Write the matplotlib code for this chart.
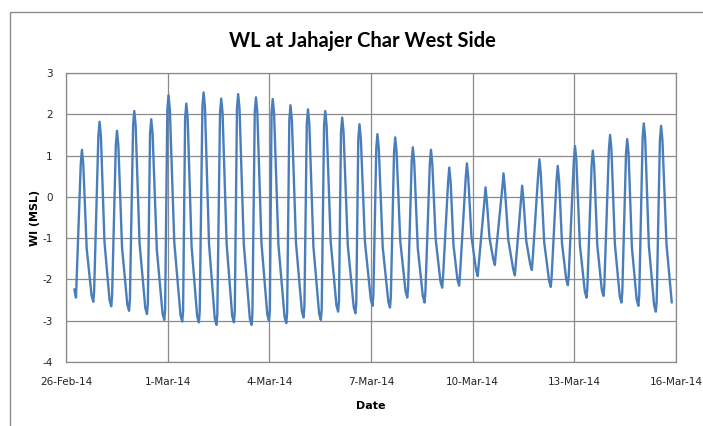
import matplotlib
matplotlib.use("Agg")
import matplotlib.pyplot as plt
from matplotlib.patches import Rectangle
import numpy as np
import datetime as dt

# ---- data (days after 26-Feb-2014 00:00, water level m MSL) ----
start_days = [0.245, 0.295]
start_levels = [-2.24, -2.44]

peak_days = [0.47, 0.99, 1.505, 2.015, 2.515, 3.025, 3.55, 4.06, 4.58, 5.08,
             5.605, 6.10, 6.625, 7.14, 7.65, 8.15, 8.66, 9.19, 9.715, 10.235,
             10.77, 11.31, 11.83, 12.38, 12.91, 13.46, 13.97, 14.51, 15.02, 15.545,
             16.055, 16.56, 17.05, 17.56]
peak_levels = [1.14, 1.82, 1.60, 2.08, 1.88, 2.46, 2.26, 2.53, 2.38, 2.49,
               2.41, 2.37, 2.22, 2.12, 2.08, 1.92, 1.76, 1.52, 1.44, 1.20,
               1.14, 0.71, 0.81, 0.23, 0.57, 0.27, 0.91, 0.75, 1.23, 1.12,
               1.50, 1.40, 1.78, 1.72]

# points on the rounded top of each high water (rising side / falling side)
peak_rise_days = [0.435, 0.955, 1.47, 1.98, 2.48, 2.99, 3.515, 4.025, 4.545, 5.045,
                  5.57, 6.065, 6.59, 7.105, 7.615, 8.115, 8.625, 9.155, 9.68, 10.20,
                  10.735, 11.275, 11.795, 12.345, 12.875, 13.425, 13.935, 14.475, 14.985, 15.51,
                  16.02, 16.525, 17.015, 17.525]
peak_rise_levels = [0.79, 1.47, 1.25, 1.73, 1.53, 2.11, 1.91, 2.18, 2.03, 2.14,
                    2.06, 2.02, 1.87, 1.77, 1.73, 1.57, 1.41, 1.17, 1.09, 0.85,
                    0.79, 0.36, 0.46, -0.12, 0.22, -0.08, 0.56, 0.40, 0.88, 0.77,
                    1.15, 1.05, 1.43, 1.37]
peak_fall_days = [0.51, 1.03, 1.545, 2.055, 2.555, 3.065, 3.59, 4.10, 4.62, 5.12,
                  5.645, 6.14, 6.665, 7.18, 7.69, 8.19, 8.70, 9.23, 9.755, 10.275,
                  10.81, 11.35, 11.87, 12.42, 12.95, 13.50, 14.01, 14.55, 15.06, 15.585,
                  16.095, 16.60, 17.09, 17.60]
peak_fall_levels = [0.79, 1.47, 1.25, 1.73, 1.53, 2.11, 1.91, 2.18, 2.03, 2.14,
                    2.06, 2.02, 1.87, 1.77, 1.73, 1.57, 1.41, 1.17, 1.09, 0.85,
                    0.79, 0.36, 0.46, -0.12, 0.22, -0.08, 0.56, 0.40, 0.88, 0.77,
                    1.15, 1.05, 1.43, 1.37]

# shoulder points on the falling limbs
shoulder_days = [0.61, 1.135, 1.654, 2.17, 2.68, 3.195, 3.705, 4.22, 4.74, 5.246,
                 5.767, 6.268, 6.787, 7.30, 7.81, 8.314, 8.822, 9.345, 9.864, 10.38,
                 10.909, 11.432, 11.964, 12.496, 13.051, 13.58, 14.111, 14.636, 15.163, 15.677,
                 16.196, 16.699, 17.199, 17.72]
shoulder_levels = [-1.25, -1.09, -1.23, -1.12, -1.28, -1.10, -1.19, -1.13, -1.14, -1.14,
                   -1.11, -1.16, -1.12, -1.20, -1.08, -1.16, -1.10, -1.21, -1.08, -1.24,
                   -1.03, -1.15, -0.96, -0.99, -1.04, -1.06, -1.10, -1.13, -1.16, -1.17,
                   -1.14, -1.23, -1.18, -1.15]

trough_days = [0.805, 1.335, 1.86, 2.39, 2.90, 3.43, 3.92, 4.44, 4.955, 5.475,
               5.99, 6.50, 7.01, 7.52, 8.03, 8.54, 9.045, 9.56, 10.07, 10.58,
               11.10, 11.60, 12.15, 12.655, 13.245, 13.745, 14.305, 14.81, 15.36, 15.86,
               16.39, 16.89, 17.405]
trough_levels = [-2.54, -2.65, -2.76, -2.84, -2.98, -3.02, -3.04, -3.10, -3.04, -3.10,
                 -3.00, -3.06, -2.92, -2.98, -2.78, -2.82, -2.64, -2.68, -2.44, -2.56,
                 -2.20, -2.15, -1.92, -1.65, -1.90, -1.77, -2.18, -2.14, -2.44, -2.40,
                 -2.56, -2.64, -2.78]

# points on the rounded bottom of each low water (before / after)
trough_pre_days = [0.755, 1.285, 1.81, 2.34, 2.85, 3.38, 3.87, 4.39, 4.905, 5.425,
                   5.94, 6.45, 6.96, 7.47, 7.98, 8.49, 8.995, 9.51, 10.02, 10.53,
                   11.05, 11.55, 12.10, 12.605, 13.195, 13.695, 14.255, 14.76, 15.31, 15.81,
                   16.34, 16.84, 17.355]
trough_pre_levels = [-2.39, -2.50, -2.61, -2.69, -2.83, -2.87, -2.89, -2.95, -2.89, -2.95,
                     -2.85, -2.91, -2.77, -2.83, -2.63, -2.67, -2.49, -2.53, -2.29, -2.41,
                     -2.05, -2.00, -1.77, -1.50, -1.75, -1.62, -2.03, -1.99, -2.29, -2.25,
                     -2.41, -2.49, -2.63]
trough_post_days = [0.83, 1.36, 1.885, 2.415, 2.925, 3.455, 3.945, 4.465, 4.98, 5.50,
                    6.015, 6.525, 7.035, 7.545, 8.055, 8.565, 9.07, 9.585, 10.095, 10.605,
                    11.125, 11.625, 12.175, 12.68, 13.27, 13.77, 14.33, 14.835, 15.385, 15.885,
                    16.415, 16.915, 17.43]
trough_post_levels = [-2.29, -2.40, -2.51, -2.59, -2.73, -2.77, -2.79, -2.85, -2.79, -2.85,
                      -2.75, -2.81, -2.67, -2.73, -2.53, -2.57, -2.39, -2.43, -2.19, -2.31,
                      -1.95, -1.90, -1.67, -1.40, -1.65, -1.52, -1.93, -1.89, -2.19, -2.15,
                      -2.31, -2.39, -2.53]

end_days = [17.875]
end_levels = [-2.56]

x_tick_labels = ["26-Feb-14", "1-Mar-14", "4-Mar-14", "7-Mar-14",
                 "10-Mar-14", "13-Mar-14", "16-Mar-14"]
y_ticks = [-4, -3, -2, -1, 0, 1, 2, 3]

title = "WL at Jahajer Char West Side"
xlabel = "Date"
ylabel = "Wl (MSL)"

# ---- assemble series ----
base = dt.datetime(2014, 2, 26)
all_days = np.array(start_days + peak_days + peak_rise_days + peak_fall_days
                    + shoulder_days + trough_days + trough_pre_days
                    + trough_post_days + end_days)
all_lv = np.array(start_levels + peak_levels + peak_rise_levels + peak_fall_levels
                  + shoulder_levels + trough_levels + trough_pre_levels
                  + trough_post_levels + end_levels)
order = np.argsort(all_days)
times = [base + dt.timedelta(days=float(d)) for d in all_days[order]]
levels = all_lv[order]

W, H = 703, 426
fig = plt.figure(figsize=(W / 100, H / 100), dpi=100)
fig.patch.set_facecolor("white")

# chart-area frame
fig.patches.append(Rectangle((10 / W, -0.05), 1.2, 1 - 12 / H + 0.05,
                             transform=fig.transFigure, fill=False,
                             edgecolor="#8c8c8c", linewidth=1.0))

ax = fig.add_axes([66 / W, 1 - 362 / H, (676 - 66) / W, (362 - 73) / H])
ax.plot(times, levels, color="#4A7EBB", linewidth=1.7,
        solid_joinstyle="round", solid_capstyle="round")

tick_dates = [base + dt.timedelta(days=3 * i) for i in range(len(x_tick_labels))]
ax.set_xlim(tick_dates[0], tick_dates[-1])
ax.set_xticks(tick_dates)
ax.set_xticklabels(x_tick_labels)
ax.set_ylim(-4, 3)
ax.set_yticks(y_ticks)
ax.set_yticklabels([str(v) for v in y_ticks])

ax.grid(True, color="#8a8a8a", linewidth=0.9)
ax.set_axisbelow(True)
for s in ax.spines.values():
    s.set_color("#8a8a8a")
    s.set_linewidth(0.9)
ax.tick_params(length=0, labelsize=7.5, colors="#222222")
ax.tick_params(axis="y", pad=9.5)
ax.tick_params(axis="x", pad=11)

ax.set_xlabel(xlabel, fontsize=8, fontweight="bold", labelpad=10)
ax.set_ylabel(ylabel, fontsize=8, fontweight="bold", labelpad=1.5)
fig.text(362 / W, 1 - 46.7 / H, title, ha="center", va="baseline",
         fontsize=14.5, fontweight="bold", family=["Lato", "DejaVu Sans"])

fig.savefig("out.png", dpi=100)
